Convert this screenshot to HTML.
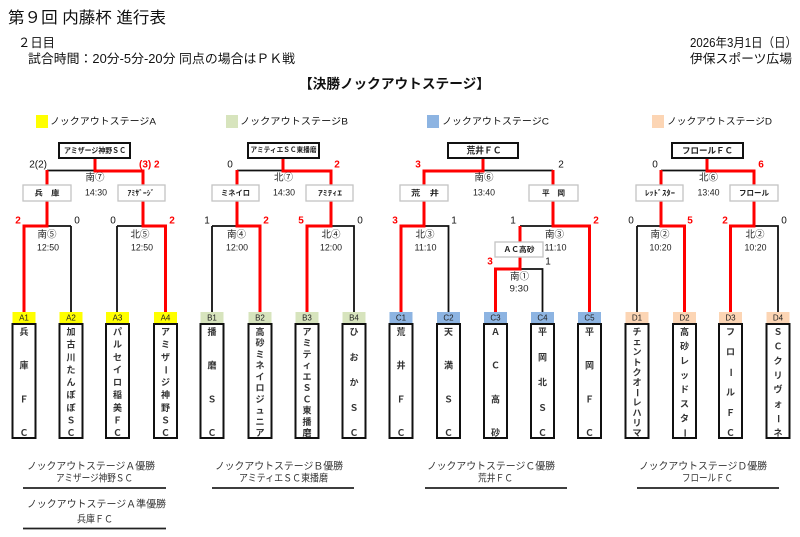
<!DOCTYPE html>
<html>
<head>
<meta charset="utf-8">
<style>
html,body{margin:0;padding:0;background:#fff;}
svg{display:block;}
text{font-family:"Liberation Sans","Noto Sans CJK JP",sans-serif;dominant-baseline:central;fill:#111;}
.m{text-anchor:middle;}
.e{text-anchor:end;}
.s{font-size:9.5px;fill:#222;}
.r{fill:#f00 !important;font-weight:bold;}
.t{font-size:9px;fill:#333;font-weight:bold;text-anchor:middle;}
.bx{font-size:7.5px;font-weight:bold;fill:#222;text-anchor:middle;}
.lb{font-size:8px;fill:#222;text-anchor:middle;}
.lk{stroke:#111;stroke-width:1.8;fill:none;}
.lr{stroke:#f00;stroke-width:3;fill:none;}
.cb{fill:#fff;stroke:#111;stroke-width:2;}
.sb{fill:#fff;stroke:#c4c4c4;stroke-width:1.3;}
.tb{fill:#fff;stroke:#111;stroke-width:2;}
.bt{font-size:10px;fill:#333;}
</style>
</head>
<body>
<svg width="800" height="537" viewBox="0 0 800 537" xmlns="http://www.w3.org/2000/svg">
<!-- Header -->
<text x="8" y="18.5" style="font-size:16px" textLength="158" lengthAdjust="spacingAndGlyphs">第９回 内藤杯 進行表</text>
<text x="18" y="43" style="font-size:12.5px" textLength="37" lengthAdjust="spacingAndGlyphs">２日目</text>
<text x="28" y="59" style="font-size:12.5px" textLength="267" lengthAdjust="spacingAndGlyphs">試合時間：20分-5分-20分 同点の場合はＰＫ戦</text>
<text x="690" y="43" style="font-size:12.5px" textLength="107" lengthAdjust="spacingAndGlyphs">2026年3月1日（日）</text>
<text x="690" y="59" style="font-size:12.5px" textLength="102" lengthAdjust="spacingAndGlyphs">伊保スポーツ広場</text>
<text x="299" y="84" style="font-size:13.5px;font-weight:bold" textLength="191" lengthAdjust="spacingAndGlyphs">【決勝ノックアウトステージ】</text>

<!-- Legend -->
<rect x="36" y="115" width="12" height="13" fill="#ffff00"/>
<text x="50" y="122" style="font-size:9.5px" textLength="106" lengthAdjust="spacingAndGlyphs">ノックアウトステージA</text>
<rect x="226" y="115" width="12" height="13" fill="#d7e4bd"/>
<text x="240" y="122" style="font-size:9.5px" textLength="108" lengthAdjust="spacingAndGlyphs">ノックアウトステージB</text>
<rect x="427" y="115" width="12" height="13" fill="#8db4e2"/>
<text x="442" y="122" style="font-size:9.5px" textLength="107" lengthAdjust="spacingAndGlyphs">ノックアウトステージC</text>
<rect x="652" y="115" width="12" height="13" fill="#fcd5b4"/>
<text x="667" y="122" style="font-size:9.5px" textLength="105" lengthAdjust="spacingAndGlyphs">ノックアウトステージD</text>

<!-- Black lines -->
<path class="lk" d="M47,170.5 H95 M71,226 V312 M48,226 H71 M117,226 H143 M117,226 V312"/>
<path class="lk" d="M237,170.5 H283 M212,226 H237 M212,226 V312 M331,226 H354 V312"/>
<path class="lk" d="M483,170.5 H553 M424,226 H448.5 V312 M520,226 H553 M520,269 H542.5 V312"/>
<path class="lk" d="M661,170.5 H707 M637,226 H661 M637,226 V312 M754,226 H778 V312"/>

<!-- Red lines -->
<path class="lr" d="M95,158 V171 H143 V185 M47,170 V185 M47,201 V226 H24 V312 M143,201 V226 H165.5 V312"/>
<path class="lr" d="M283,158 V171 H331 V185 M237,170 V185 M237,201 V226 H260 V312 M331,201 V226 H307 V312"/>
<path class="lr" d="M483,158 V171 H424 V185 M553,170 V185 M424,201 V226 H401 V312 M553,201 V226 H589.5 V312 M520,226 V242 M520,257 V269 H495.5 V312"/>
<path class="lr" d="M707,158 V171 H754 V185 M661,170 V185 M661,201 V226 H684.5 V312 M754,201 V226 H730.5 V312"/>

<!-- Champion boxes -->
<rect class="cb" x="59" y="143" width="71" height="15"/>
<text class="bx" x="95" y="150.5" textLength="62" lengthAdjust="spacingAndGlyphs">アミザージ神野ＳＣ</text>
<rect class="cb" x="248" y="143" width="71" height="15"/>
<text class="bx" x="283.5" y="150.5" style="font-size:7px" textLength="66" lengthAdjust="spacingAndGlyphs">アミティエＳＣ東播磨</text>
<rect class="cb" x="448" y="143" width="70" height="15"/>
<text class="bx" x="484" y="150.5" style="font-size:9px" textLength="35" lengthAdjust="spacingAndGlyphs">荒井ＦＣ</text>
<rect class="cb" x="672" y="143" width="71" height="15"/>
<text class="bx" x="707.5" y="150.5" style="font-size:8.5px" textLength="51" lengthAdjust="spacingAndGlyphs">フロールＦＣ</text>

<!-- Semi boxes -->
<rect class="sb" x="23" y="185" width="48" height="16"/>
<text class="bx" x="47" y="193" textLength="25" lengthAdjust="spacingAndGlyphs">兵　庫</text>
<rect class="sb" x="118" y="185" width="47" height="16"/>
<text class="bx" x="141" y="193" textLength="27" lengthAdjust="spacingAndGlyphs">ｱﾐｻﾞｰｼﾞ</text>
<rect class="sb" x="212" y="185" width="47" height="16"/>
<text class="bx" x="235.5" y="193" textLength="29" lengthAdjust="spacingAndGlyphs">ミネイロ</text>
<rect class="sb" x="306" y="185" width="47" height="16"/>
<text class="bx" x="330" y="193" textLength="24" lengthAdjust="spacingAndGlyphs">ｱﾐﾃｨｴ</text>
<rect class="sb" x="400" y="185" width="48" height="16"/>
<text class="bx" x="425" y="193" textLength="28" lengthAdjust="spacingAndGlyphs">荒　井</text>
<rect class="sb" x="529" y="185" width="49" height="16"/>
<text class="bx" x="553.5" y="193" textLength="23" lengthAdjust="spacingAndGlyphs">平　岡</text>
<rect class="sb" x="495" y="242" width="48" height="15"/>
<text class="bx" x="519" y="249.5" textLength="31" lengthAdjust="spacingAndGlyphs">ＡＣ高砂</text>
<rect class="sb" x="636" y="185" width="47" height="16"/>
<text class="bx" x="660" y="193" textLength="30" lengthAdjust="spacingAndGlyphs">ﾚｯﾄﾞｽﾀｰ</text>
<rect class="sb" x="730" y="185" width="48" height="16"/>
<text class="bx" x="754" y="193" textLength="30" lengthAdjust="spacingAndGlyphs">フロール</text>

<!-- Scores -->
<g style="font-size:10px">
<text class="e" x="47" y="165">2(2)</text>
<text class="r" x="139" y="165">(3) 2</text>
<text class="m r" x="18" y="221">2</text>
<text class="m" x="77" y="221">0</text>
<text class="m" x="113" y="221">0</text>
<text class="m r" x="172" y="221">2</text>

<text class="m" x="230" y="165">0</text>
<text class="m r" x="337" y="165">2</text>
<text class="m" x="207" y="221">1</text>
<text class="m r" x="266" y="221">2</text>
<text class="m r" x="301" y="221">5</text>
<text class="m" x="360" y="221">0</text>

<text class="m r" x="418" y="165">3</text>
<text class="m" x="561" y="165">2</text>
<text class="m r" x="395" y="221">3</text>
<text class="m" x="454" y="221">1</text>
<text class="m" x="513" y="221">1</text>
<text class="m r" x="596" y="221">2</text>
<text class="m r" x="490" y="262">3</text>
<text class="m" x="548" y="262">1</text>

<text class="m" x="655" y="165">0</text>
<text class="m r" x="761" y="165">6</text>
<text class="m" x="631" y="221">0</text>
<text class="m r" x="690" y="221">5</text>
<text class="m r" x="725" y="221">2</text>
<text class="m" x="784" y="221">0</text>
</g>

<!-- Match names & times -->
<g class="s">
<text class="m s" x="95" y="178">南⑦</text>
<text class="m s" x="96" y="193" textLength="22" lengthAdjust="spacingAndGlyphs">14:30</text>
<text class="m s" x="47" y="235">南⑤</text>
<text class="m s" x="48" y="248" textLength="22" lengthAdjust="spacingAndGlyphs">12:50</text>
<text class="m s" x="140" y="235">北⑤</text>
<text class="m s" x="142" y="248" textLength="22" lengthAdjust="spacingAndGlyphs">12:50</text>

<text class="m s" x="283.5" y="178">北⑦</text>
<text class="m s" x="284" y="193" textLength="22" lengthAdjust="spacingAndGlyphs">14:30</text>
<text class="m s" x="236.5" y="235">南④</text>
<text class="m s" x="237" y="248" textLength="22" lengthAdjust="spacingAndGlyphs">12:00</text>
<text class="m s" x="331" y="235">北④</text>
<text class="m s" x="331" y="248" textLength="22" lengthAdjust="spacingAndGlyphs">12:00</text>

<text class="m s" x="484" y="178">南⑥</text>
<text class="m s" x="484" y="193" textLength="22" lengthAdjust="spacingAndGlyphs">13:40</text>
<text class="m s" x="425" y="235">北③</text>
<text class="m s" x="425.5" y="248" textLength="22" lengthAdjust="spacingAndGlyphs">11:10</text>
<text class="m s" x="554.5" y="235">南③</text>
<text class="m s" x="555.5" y="248" textLength="22" lengthAdjust="spacingAndGlyphs">11:10</text>
<text class="m s" x="519.5" y="277">南①</text>
<text class="m s" x="519" y="289" textLength="19" lengthAdjust="spacingAndGlyphs">9:30</text>

<text class="m s" x="708.5" y="178">北⑥</text>
<text class="m s" x="708.5" y="193" textLength="22" lengthAdjust="spacingAndGlyphs">13:40</text>
<text class="m s" x="660" y="235">南②</text>
<text class="m s" x="660.5" y="248" textLength="22" lengthAdjust="spacingAndGlyphs">10:20</text>
<text class="m s" x="755" y="235">北②</text>
<text class="m s" x="755.5" y="248" textLength="22" lengthAdjust="spacingAndGlyphs">10:20</text>
</g>

<!-- Labels -->
<rect x="12.5" y="312" width="23" height="12" fill="#ffff00"/><text class="lb" x="24" y="318">A1</text>
<rect x="59.5" y="312" width="23" height="12" fill="#ffff00"/><text class="lb" x="71" y="318">A2</text>
<rect x="106" y="312" width="23" height="12" fill="#ffff00"/><text class="lb" x="117.5" y="318">A3</text>
<rect x="154" y="312" width="23" height="12" fill="#ffff00"/><text class="lb" x="165.5" y="318">A4</text>

<rect x="200.5" y="312" width="23" height="12" fill="#d7e4bd"/><text class="lb" x="212" y="318">B1</text>
<rect x="248.5" y="312" width="23" height="12" fill="#d7e4bd"/><text class="lb" x="260" y="318">B2</text>
<rect x="295.5" y="312" width="23" height="12" fill="#d7e4bd"/><text class="lb" x="307" y="318">B3</text>
<rect x="342.5" y="312" width="23" height="12" fill="#d7e4bd"/><text class="lb" x="354" y="318">B4</text>

<rect x="389.5" y="312" width="23" height="12" fill="#8db4e2"/><text class="lb" x="401" y="318">C1</text>
<rect x="437" y="312" width="23" height="12" fill="#8db4e2"/><text class="lb" x="448.5" y="318">C2</text>
<rect x="484" y="312" width="23" height="12" fill="#8db4e2"/><text class="lb" x="495.5" y="318">C3</text>
<rect x="531" y="312" width="23" height="12" fill="#8db4e2"/><text class="lb" x="542.5" y="318">C4</text>
<rect x="578" y="312" width="23" height="12" fill="#8db4e2"/><text class="lb" x="589.5" y="318">C5</text>

<rect x="625.5" y="312" width="23" height="12" fill="#fcd5b4"/><text class="lb" x="637" y="318">D1</text>
<rect x="673" y="312" width="23" height="12" fill="#fcd5b4"/><text class="lb" x="684.5" y="318">D2</text>
<rect x="719" y="312" width="23" height="12" fill="#fcd5b4"/><text class="lb" x="730.5" y="318">D3</text>
<rect x="766.5" y="312" width="23" height="12" fill="#fcd5b4"/><text class="lb" x="778" y="318">D4</text>

<!-- Team boxes -->
<rect class="tb" x="12.5" y="324" width="23" height="114"/>
<rect class="tb" x="59.5" y="324" width="23" height="114"/>
<rect class="tb" x="106" y="324" width="23" height="114"/>
<rect class="tb" x="154" y="324" width="23" height="114"/>
<rect class="tb" x="200.5" y="324" width="23" height="114"/>
<rect class="tb" x="248.5" y="324" width="23" height="114"/>
<rect class="tb" x="295.5" y="324" width="23" height="114"/>
<rect class="tb" x="342.5" y="324" width="23" height="114"/>
<rect class="tb" x="389.5" y="324" width="23" height="114"/>
<rect class="tb" x="437" y="324" width="23" height="114"/>
<rect class="tb" x="484" y="324" width="23" height="114"/>
<rect class="tb" x="531" y="324" width="23" height="114"/>
<rect class="tb" x="578" y="324" width="23" height="114"/>
<rect class="tb" x="625.5" y="324" width="23" height="114"/>
<rect class="tb" x="673" y="324" width="23" height="114"/>
<rect class="tb" x="719" y="324" width="23" height="114"/>
<rect class="tb" x="766.5" y="324" width="23" height="114"/>

<!-- Team names (vertical) -->
<text class="t" x="24 24 24 24" y="332 365.7 399.3 433">兵庫ＦＣ</text>
<text class="t" x="71 71 71 71 71 71 71 71 71" y="332 344.6 357.25 369.9 382.5 395.1 407.75 420.4 433">加古川たんぽぽＳＣ</text>
<text class="t" x="117.5 117.5 117.5 117.5 117.5 117.5 117.5 117.5 117.5" y="332 344.6 357.25 369.9 382.5 395.1 407.75 420.4 433">パルセイロ稲美ＦＣ</text>
<text class="t" x="165.5 165.5 165.5 165.5 165.5 165.5 165.5 165.5" y="332 344.6 357.25 382.5 395.1 407.75 420.4 433">アミザジ神野ＳＣ</text>
<text class="t" x="165.5" y="369.9" transform="rotate(90 165.5 369.9)">ー</text>

<text class="t" x="212 212 212 212" y="332 365.7 399.3 433">播磨ＳＣ</text>
<text class="t" x="260 260 260 260 260 260 260 260 260 260" y="332 343.2 354.4 365.7 376.9 388.1 399.3 410.6 421.8 433">高砂ミネイロジュニア</text>
<text class="t" x="307 307 307 307 307 307 307 307 307 307" y="332 343.2 354.4 365.7 376.9 388.1 399.3 410.6 421.8 433">アミティエＳＣ東播磨</text>
<text class="t" x="354 354 354 354 354" y="332 357.25 382.5 407.75 433">ひおかＳＣ</text>

<text class="t" x="401 401 401 401" y="332 365.7 399.3 433">荒井ＦＣ</text>
<text class="t" x="448.5 448.5 448.5 448.5" y="332 365.7 399.3 433">天満ＳＣ</text>
<text class="t" x="495.5 495.5 495.5 495.5" y="332 365.7 399.3 433">ＡＣ高砂</text>
<text class="t" x="542.5 542.5 542.5 542.5 542.5" y="332 357.25 382.5 407.75 433">平岡北ＳＣ</text>
<text class="t" x="589.5 589.5 589.5 589.5" y="332 365.7 399.3 433">平岡ＦＣ</text>

<text class="t" x="637 637 637 637 637 637 637 637 637 637" y="332 342.1 352.2 362.3 372.4 382.5 402.7 412.8 422.9 433">チェントクオレハリマ</text>
<text class="t" x="637" y="392.6" transform="rotate(90 637 392.6)">ー</text>
<text class="t" x="684.5 684.5 684.5 684.5 684.5 684.5 684.5" y="332 346.4 360.9 375.3 389.7 404.1 418.6">高砂レッドスタ</text>
<text class="t" x="684.5" y="433" transform="rotate(90 684.5 433)">ー</text>
<text class="t" x="730.5 730.5 730.5 730.5 730.5" y="332 352.2 392.6 412.8 433">フロルＦＣ</text>
<text class="t" x="730.5" y="372.4" transform="rotate(90 730.5 372.4)">ー</text>
<text class="t" x="778 778 778 778 778 778 778" y="332 346.4 360.9 375.3 389.7 404.1 433">ＳＣクリヴォネ</text>
<text class="t" x="778" y="418.6" transform="rotate(90 778 418.6)">ー</text>

<!-- Bottom results -->
<text class="bt" x="27" y="467" textLength="128" lengthAdjust="spacingAndGlyphs">ノックアウトステージＡ優勝</text>
<text class="bt" x="56" y="479" textLength="77" lengthAdjust="spacingAndGlyphs">アミザージ神野ＳＣ</text>
<line x1="23" y1="488" x2="166" y2="488" stroke="#222" stroke-width="1.8"/>
<text class="bt" x="27" y="505" textLength="139" lengthAdjust="spacingAndGlyphs">ノックアウトステージＡ準優勝</text>
<text class="bt" x="77" y="520" textLength="36" lengthAdjust="spacingAndGlyphs">兵庫ＦＣ</text>
<line x1="23" y1="528.5" x2="166" y2="528.5" stroke="#222" stroke-width="1.8"/>

<text class="bt" x="215" y="467" textLength="128" lengthAdjust="spacingAndGlyphs">ノックアウトステージＢ優勝</text>
<text class="bt" x="239" y="479" textLength="89" lengthAdjust="spacingAndGlyphs">アミティエＳＣ東播磨</text>
<line x1="212" y1="488" x2="354" y2="488" stroke="#222" stroke-width="1.8"/>

<text class="bt" x="427" y="467" textLength="128" lengthAdjust="spacingAndGlyphs">ノックアウトステージＣ優勝</text>
<text class="bt" x="478" y="479" textLength="35" lengthAdjust="spacingAndGlyphs">荒井ＦＣ</text>
<line x1="425" y1="488" x2="567" y2="488" stroke="#222" stroke-width="1.8"/>

<text class="bt" x="639" y="467" textLength="128" lengthAdjust="spacingAndGlyphs">ノックアウトステージＤ優勝</text>
<text class="bt" x="682" y="479" textLength="51" lengthAdjust="spacingAndGlyphs">フロールＦＣ</text>
<line x1="637" y1="488" x2="779" y2="488" stroke="#222" stroke-width="1.8"/>
</svg>
</body>
</html>
